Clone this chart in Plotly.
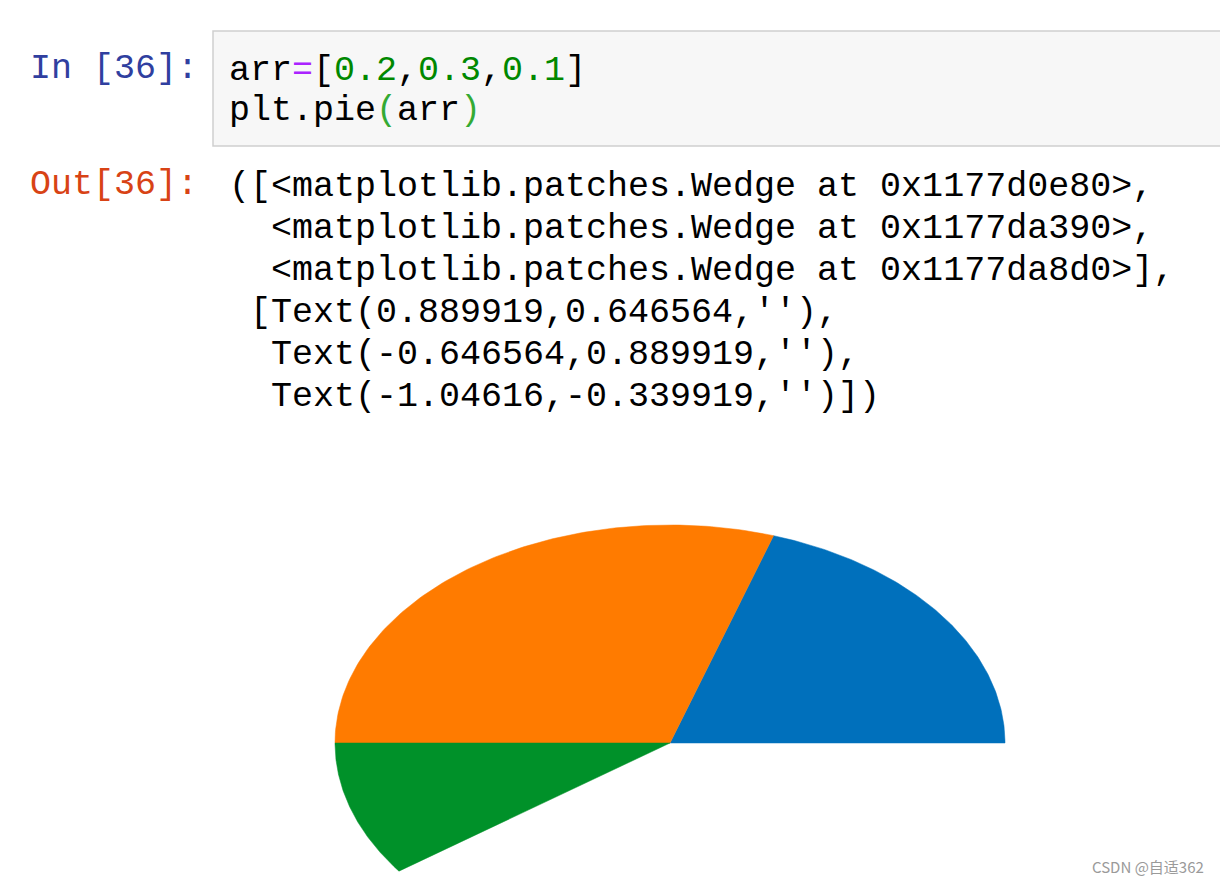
import numpy as np
import plotly.graph_objects as go

# ---- data ----
arr = [0.2, 0.3, 0.1]
wedge_colors = ["#0070BC", "#FF7B00", "#009129"]

prompt_in = "In [36]:"
prompt_out = "Out[36]:"
code_lines = [
    'arr<span style="color:#AA22FF">=</span>[<span style="color:#008800">0.2</span>,'
    '<span style="color:#008800">0.3</span>,<span style="color:#008800">0.1</span>]',
    'plt.pie<span style="color:#33AA33">(</span>arr<span style="color:#33AA33">)</span>',
]
out_lines = [
    "([<matplotlib.patches.Wedge at 0x1177d0e80>,",
    "  <matplotlib.patches.Wedge at 0x1177da390>,",
    "  <matplotlib.patches.Wedge at 0x1177da8d0>],",
    " [Text(0.889919,0.646564,''),",
    "  Text(-0.646564,0.889919,''),",
    "  Text(-1.04616,-0.339919,'')])",
]
watermark = "CSDN @自适362"

W, H = 1220, 882
FONT = "Liberation Mono, Courier New, monospace"
FS = 35


def px(x):
    return x / W


def py(y):
    return 1 - y / H


fig = go.Figure()

# pie wedges (matplotlib semantics: sum < 1 -> partial pie, counterclockwise from 0 deg)
cum = np.concatenate([[0], np.cumsum(arr)])
for i, v in enumerate(arr):
    t = np.linspace(cum[i] * 2 * np.pi, cum[i + 1] * 2 * np.pi, 120)
    xs = np.concatenate([[0], np.cos(t), [0]])
    ys = np.concatenate([[0], np.sin(t), [0]])
    fig.add_trace(go.Scatter(x=xs, y=ys, mode="lines", fill="toself",
                             fillcolor=wedge_colors[i],
                             line=dict(width=0.5, color=wedge_colors[i]),
                             hoverinfo="skip", showlegend=False))

# axis ranges map unit circle to an ellipse: centre (670,743), rx 335, ry 218
cx, cy, rx, ry = 670, 743, 335, 218
fig.update_xaxes(range=[-cx / rx, (W - cx) / rx], visible=False, domain=[0, 1])
fig.update_yaxes(range=[-(H - cy) / ry, cy / ry], visible=False, domain=[0, 1])

# code cell box
fig.add_shape(type="rect", xref="paper", yref="paper",
              x0=px(213), x1=px(1230), y0=py(31), y1=py(146),
              fillcolor="#F7F7F7", line=dict(color="#CFCFCF", width=1.5), layer="below")

ann = []
ann.append(dict(text=prompt_in, x=px(28), y=py(69), font=dict(color="#303F9F")))
ann.append(dict(text=prompt_out, x=px(28), y=py(185), font=dict(color="#D84315")))
for k, line in enumerate(code_lines):
    ann.append(dict(text=line, x=px(227), y=py(71 + 40 * k), font=dict(color="#000000")))
for k, line in enumerate(out_lines):
    ann.append(dict(text=line.replace(" ", "\u00a0"), x=px(227), y=py(187 + 42 * k),
                    font=dict(color="#000000")))

for a in ann:
    f = dict(family=FONT, size=FS)
    f.update(a.pop("font"))
    fig.add_annotation(xref="paper", yref="paper", xanchor="left", yanchor="middle",
                       showarrow=False, font=f, **a)

fig.add_annotation(text=watermark, xref="paper", yref="paper", x=px(1206), y=py(866),
                   xanchor="right", yanchor="middle", showarrow=False,
                   font=dict(family="Noto Sans CJK SC, Noto Sans, sans-serif", size=15,
                             color="#9A9A9A"))

fig.update_layout(width=W, height=H, margin=dict(l=0, r=0, t=0, b=0),
                  paper_bgcolor="white", plot_bgcolor="white")

fig.write_html("out.html")
